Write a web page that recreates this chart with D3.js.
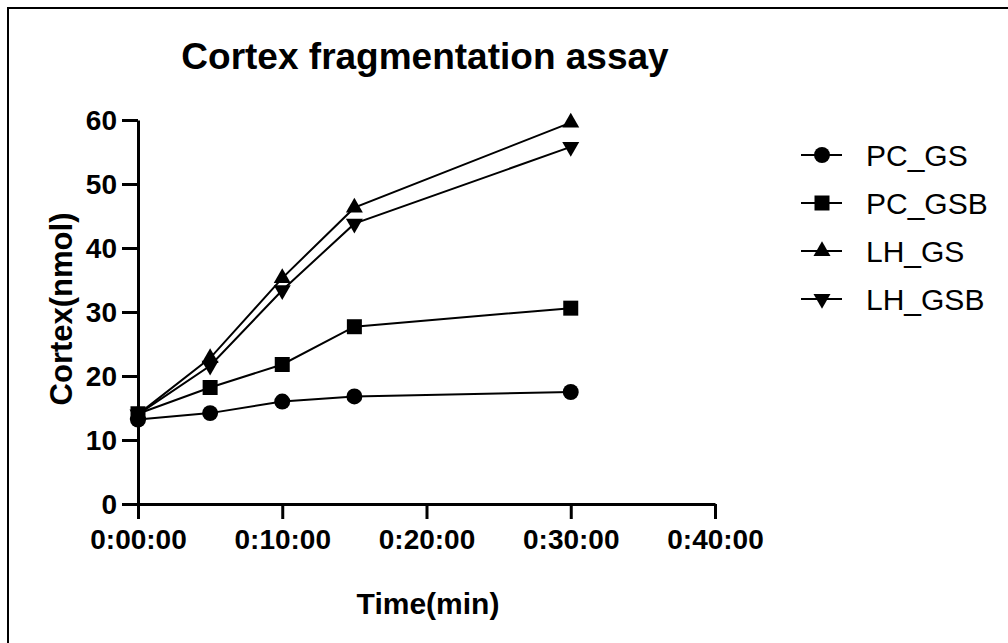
<!DOCTYPE html>
<html>
<head>
<meta charset="utf-8">
<script src="https://cdn.jsdelivr.net/npm/d3@7"></script>
<style>
  html, body { margin: 0; padding: 0; background: #fff; }
  svg { display: block; font-family: "Liberation Sans", Arial, sans-serif; }
</style>
</head>
<body>
<svg id="chart" width="1008" height="643"></svg>
<script>
// Sampling times (minutes)
const times = [0, 5, 10, 15, 30];
// Cortex released (nmol) per condition
const pcGS   = [13.2, 14.2, 16.0, 16.8, 17.5];
const pcGSB  = [14.1, 18.2, 21.8, 27.7, 30.6];
const lhGS   = [14.0, 22.8, 35.3, 46.3, 59.6];
const lhGSB  = [14.0, 21.6, 33.4, 43.8, 55.8];
const seriesNames = ["PC_GS", "PC_GSB", "LH_GS", "LH_GSB"];
const seriesValues = [pcGS, pcGSB, lhGS, lhGSB];
const xTicks = [0, 10, 20, 30, 40];
const yTicks = [0, 10, 20, 30, 40, 50, 60];

const svg = d3.select("#chart");

// frame: top and left edges
svg.append("line").attr("x1", 7).attr("x2", 1008).attr("y1", 8).attr("y2", 8)
  .attr("stroke", "#000").attr("stroke-width", 2);
svg.append("line").attr("x1", 8).attr("x2", 8).attr("y1", 7).attr("y2", 643)
  .attr("stroke", "#000").attr("stroke-width", 2);

const x = d3.scaleLinear().domain([0, 40]).range([138, 715]);
const y = d3.scaleLinear().domain([0, 60]).range([504, 120]);

const fmtTime = d => `0:${String(d).padStart(2, "0")}:00`;

// x axis
const gx = svg.append("g").attr("transform", `translate(0,${y(0)})`)
  .call(d3.axisBottom(x).tickValues(xTicks).tickFormat(fmtTime).tickSize(15).tickSizeOuter(0).tickPadding(10));
// y axis
const gy = svg.append("g").attr("transform", `translate(${x(0)},0)`)
  .call(d3.axisLeft(y).tickValues(yTicks).tickSize(16).tickSizeOuter(0).tickPadding(5));

[gx, gy].forEach(g => {
  g.select(".domain").attr("stroke", "#000").attr("stroke-width", 3);
  g.selectAll(".tick line").attr("stroke", "#000").attr("stroke-width", 3);
  g.selectAll(".tick text").attr("fill", "#000").attr("font-weight", "bold")
    .attr("font-family", "Liberation Sans, Arial, sans-serif");
});
gx.selectAll(".tick text").attr("font-size", 28).attr("dy", "0.71em");
gy.selectAll(".tick text").attr("font-size", 28).attr("dy", "0.35em");

// title and axis labels
svg.append("text").attr("x", 425).attr("y", 69).attr("text-anchor", "middle")
  .attr("font-size", 37).attr("font-weight", "bold").text("Cortex fragmentation assay");
svg.append("text").attr("x", 428).attr("y", 614).attr("text-anchor", "middle")
  .attr("font-size", 30).attr("font-weight", "bold").text("Time(min)");
svg.append("text").attr("transform", "translate(72,309) rotate(-90)").attr("text-anchor", "middle")
  .attr("font-size", 31).attr("font-weight", "bold").text("Cortex(nmol)");

// marker shapes per series
const symbols = [
  d3.symbol().type(d3.symbolCircle).size(200),
  d3.symbol().type(d3.symbolSquare).size(225),
  d3.symbol().type(d3.symbolTriangle).size(125),
  d3.symbol().type(d3.symbolTriangle).size(125)
];
const rotations = [0, 0, 0, 180];

const line = d3.line().x(d => x(d[0])).y(d => y(d[1]));

seriesValues.forEach((vals, i) => {
  const pts = times.map((t, j) => [t, vals[j]]);
  svg.append("path").datum(pts).attr("d", line)
    .attr("fill", "none").attr("stroke", "#000").attr("stroke-width", 2);
  svg.append("g").selectAll("path").data(pts).join("path")
    .attr("d", symbols[i])
    .attr("transform", d => `translate(${x(d[0])},${y(d[1])}) rotate(${rotations[i]})`)
    .attr("fill", "#000");
});

// legend
const legend = svg.append("g");
seriesNames.forEach((name, i) => {
  const cy = 155 + i * 48;
  legend.append("line").attr("x1", 801).attr("x2", 842).attr("y1", cy).attr("y2", cy)
    .attr("stroke", "#000").attr("stroke-width", 2);
  legend.append("path").attr("d", symbols[i])
    .attr("transform", `translate(822,${cy}) rotate(${rotations[i]})`).attr("fill", "#000");
  legend.append("text").attr("x", 866).attr("y", cy).attr("dy", "0.36em")
    .attr("font-size", 30).text(name);
});
</script>
</body>
</html>
